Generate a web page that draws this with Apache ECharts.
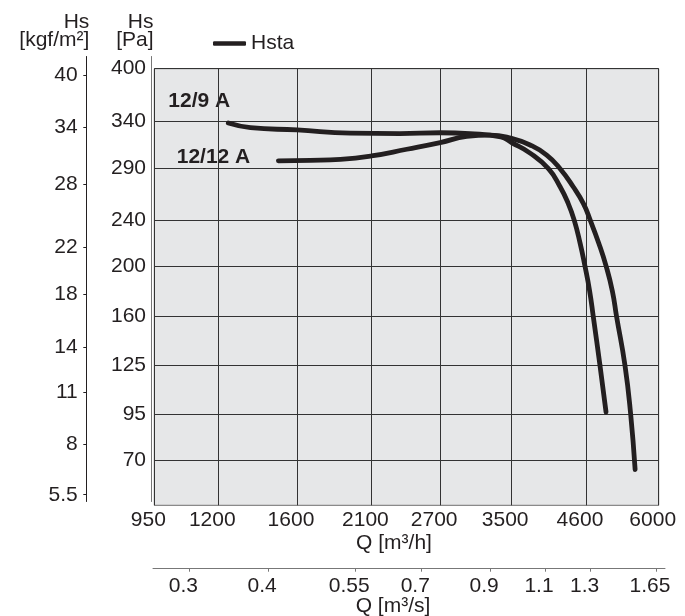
<!DOCTYPE html>
<html><head><meta charset="utf-8">
<script src="https://cdn.jsdelivr.net/npm/echarts@6/dist/echarts.min.js"></script>
<style>html,body{margin:0;padding:0;background:#fff}#c{width:685px;height:616px}</style>
</head><body><div id="c"></div><script>
// ---- data ----
const qTicksH = [950, 1200, 1600, 2100, 2700, 3500, 4600, 6000];          // Q [m3/h]
const qTicksS = [0.3, 0.4, 0.55, 0.7, 0.9, 1.1, 1.3, 1.65];                // Q [m3/s]
const paTicks = [70, 95, 125, 160, 200, 240, 290, 340, 400];               // Hs [Pa]
const kgfTicks = [5.5, 8, 11, 14, 18, 22, 28, 34, 40];                     // Hs [kgf/m2]

const q129 = [1245, 1350, 1600, 1945, 2330, 2700, 3010, 3370, 3505, 3750, 4010, 4185, 4310, 4405, 4500, 4580, 4660, 4725, 4840, 4950];
const pa129 = [338, 333, 330.5, 327, 326.5, 327.5, 326.5, 323, 317, 306, 290, 272, 256, 240.5, 220, 200.5, 180, 159.5, 125.5, 96];

const q1212 = [1495, 1680, 1875, 2100, 2390, 2700, 2975, 3240, 3505, 3750, 3985, 4185, 4390, 4555, 4670, 4820, 4950, 5065, 5145, 5305, 5415, 5505];
const pa1212 = [298, 298.5, 299.5, 303, 310, 317, 323.5, 325, 321.5, 314.5, 304, 290, 272, 256, 240.5, 219.5, 200, 179.5, 159.5, 125, 95, 65.5];

// ---- scales: x logarithmic, y square-root ----
const fx = q => Math.log10(q);
const fy = p => Math.sqrt(p);
const KGF = 9.80665;

// ---- layout ----
const FONT = '"Liberation Sans", Arial, Helvetica, sans-serif';
const INK = '#231f20';
const FS = 21;
const P = { l: 154.3, r: 658.7, t: 68.7, b: 505.3 };
const xMin = fx(qTicksH[0]), xMax = fx(qTicksH[qTicksH.length - 1]);
const pxX = (P.r - P.l) / (xMax - xMin);
const yMax = fy(400);
const y70px = 460.3;
const pxY = (y70px - P.t) / (yMax - fy(70));
const yMin = yMax - (P.b - P.t) / pxY;
// left axes grid
const L = { x: 151, t: 56.5, b: 501.5 };
const yMaxL = yMax + (P.t - L.t) / pxY, yMinL = yMax - (L.b - P.t) / pxY;
// secondary x axis grid
const S = { l: 153, r: 665, y: 568.7 };
const xMinS = xMin - (P.l - S.l) / pxX, xMaxS = xMax + (S.r - P.r) / pxX;

function nearestLabel(ticks, tf) {
  return v => {
    let best = ticks[0], d = Infinity;
    ticks.forEach(t => { const dd = Math.abs(tf(t) - v); if (dd < d) { d = dd; best = t; } });
    return String(best);
  };
}
const txt = { fontFamily: FONT, fontSize: FS, color: INK };

const chart = echarts.init(document.getElementById('c'), null, { renderer: 'canvas' });
const mk = (qs, ps) => qs.map((q, i) => [fx(q), fy(ps[i])]);
const lineSeries = (data) => ({
  type: 'line', name: 'Hsta', xAxisIndex: 0, yAxisIndex: 0, data,
  showSymbol: false, smooth: 0.5, silent: true,
  lineStyle: { color: INK, width: 4.8, cap: 'round', join: 'round' },
  itemStyle: { color: INK }
});

const xH = qTicksH.map(fx), xS = qTicksS.map(v => fx(v * 3600));
const yP = paTicks.map(fy), yK = kgfTicks.map(v => fy(v * KGF));

chart.setOption({
  animation: false,
  backgroundColor: '#ffffff',
  textStyle: { fontFamily: FONT },
  legend: {
    data: ['Hsta'], left: 213, top: 33, padding: 0,
    icon: 'roundRect', itemWidth: 33, itemHeight: 4.5, itemGap: 5,
    textStyle: txt
  },
  grid: [
    { left: P.l, top: P.t, width: P.r - P.l, height: P.b - P.t, show: true,
      backgroundColor: '#e6e7e8', borderColor: '#6e6e6e', borderWidth: 1 },
    { left: L.x, top: L.t, width: 1, height: L.b - L.t },
    { left: S.l, top: S.y - 1, width: S.r - S.l, height: 1 }
  ],
  xAxis: [
    { gridIndex: 0, type: 'value', min: xMin, max: xMax,
      axisLine: { show: false, onZero: false },
      axisTick: { show: false, customValues: xH },
      axisLabel: { customValues: xH, formatter: nearestLabel(qTicksH, fx), ...txt,
        margin: 4, padding: [0, 12, 0, 0], showMinLabel: true, showMaxLabel: true, hideOverlap: false },
      splitLine: { show: true, lineStyle: { color: '#333333', width: 1 } } },
    { gridIndex: 1, type: 'value', show: false, min: 0, max: 1 },
    { gridIndex: 2, type: 'value', min: xMinS, max: xMaxS, position: 'bottom',
      axisLine: { show: true, onZero: false, lineStyle: { color: '#777777', width: 1 } },
      axisTick: { show: true, length: 3, customValues: xS, lineStyle: { color: '#777777' } },
      axisLabel: { customValues: xS, formatter: nearestLabel(qTicksS, v => fx(v * 3600)), ...txt,
        margin: 7, padding: [0, 12, 0, 0], showMinLabel: true, showMaxLabel: true, hideOverlap: false },
      splitLine: { show: false } }
  ],
  yAxis: [
    { gridIndex: 0, type: 'value', min: yMin, max: yMax,
      axisLine: { show: false, onZero: false },
      axisTick: { show: false, customValues: yP },
      axisLabel: { show: false, customValues: yP },
      splitLine: { show: true, lineStyle: { color: '#333333', width: 1 } } },
    { gridIndex: 1, type: 'value', min: yMinL, max: yMaxL, position: 'left',
      axisLine: { show: true, onZero: false, lineStyle: { color: '#777777', width: 1 } },
      axisTick: { show: false, customValues: yP },
      axisLabel: { customValues: yP, formatter: nearestLabel(paTicks, fy), ...txt, margin: 5,
        showMinLabel: true, showMaxLabel: true, hideOverlap: false },
      splitLine: { show: false } },
    { gridIndex: 1, type: 'value', min: yMinL, max: yMaxL, position: 'left', offset: L.x - 86.7,
      axisLine: { show: true, onZero: false, lineStyle: { color: INK, width: 1 } },
      axisTick: { show: true, length: 3.4, customValues: yK, lineStyle: { color: INK } },
      axisLabel: { customValues: yK, formatter: nearestLabel(kgfTicks, v => fy(v * KGF)), ...txt, margin: 9,
        showMinLabel: true, showMaxLabel: true, hideOverlap: false },
      splitLine: { show: false } },
    { gridIndex: 2, type: 'value', show: false, min: 0, max: 1 }
  ],
  graphic: [
    { type: 'text', style: { text: 'Hs', x: 89.3, y: 22, align: 'right', verticalAlign: 'middle', font: FS + 'px ' + FONT, fill: INK } },
    { type: 'text', style: { text: '[kgf/m²]', x: 89.3, y: 40, align: 'right', verticalAlign: 'middle', font: FS + 'px ' + FONT, fill: INK } },
    { type: 'text', style: { text: 'Hs', x: 153.5, y: 22, align: 'right', verticalAlign: 'middle', font: FS + 'px ' + FONT, fill: INK } },
    { type: 'text', style: { text: '[Pa]', x: 153.5, y: 40, align: 'right', verticalAlign: 'middle', font: FS + 'px ' + FONT, fill: INK } },
    { type: 'text', style: { text: '12/9 A', x: 168.3, y: 101, align: 'left', verticalAlign: 'middle', font: 'bold ' + FS + 'px ' + FONT, fill: INK } },
    { type: 'text', style: { text: '12/12 A', x: 176.7, y: 157.5, align: 'left', verticalAlign: 'middle', font: 'bold ' + FS + 'px ' + FONT, fill: INK } },
    { type: 'text', style: { text: 'Q [m³/h]', x: 394, y: 543, align: 'center', verticalAlign: 'middle', font: FS + 'px ' + FONT, fill: INK } },
    { type: 'text', style: { text: 'Q [m³/s]', x: 393, y: 606, align: 'center', verticalAlign: 'middle', font: FS + 'px ' + FONT, fill: INK } }
  ],
  series: [lineSeries(mk(q129, pa129)), lineSeries(mk(q1212, pa1212))]
});
</script></body></html>
